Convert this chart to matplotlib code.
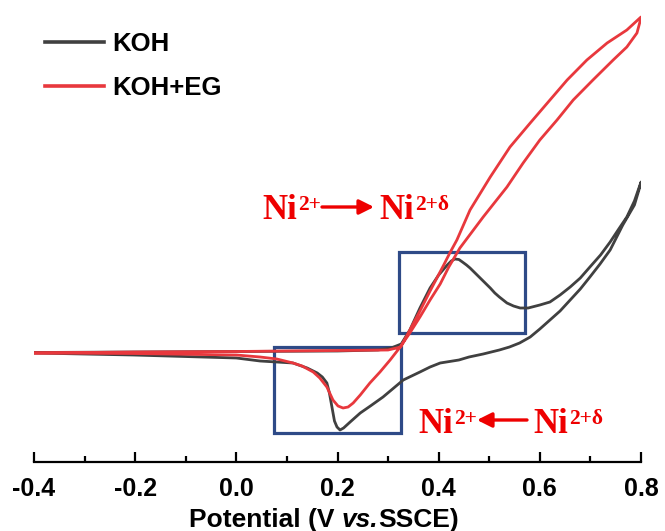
import matplotlib
matplotlib.use("Agg")
import matplotlib.pyplot as plt
from matplotlib.patches import Rectangle

# potential (V vs. SSCE) and current (arb. units)
koh_fwd_v = [-0.40, -0.20, 0.00, 0.20, 0.28, 0.306, 0.326, 0.343, 0.363, 0.383, 0.400,
             0.417, 0.425, 0.432, 0.440, 0.447, 0.455, 0.462, 0.472, 0.482, 0.492, 0.502,
             0.511, 0.520, 0.535, 0.548, 0.561, 0.577,
             0.600, 0.620, 0.640, 0.660, 0.680, 0.699, 0.720, 0.739, 0.756, 0.772, 0.787, 0.800]
koh_fwd_i = [0.05, 0.10, 0.15, 0.20, 0.30, 0.50, 0.90, 2.3, 4.5, 6.5, 7.8,
             8.8, 9.2, 9.4, 9.35, 9.1, 8.8, 8.5, 8.0, 7.5, 7.0, 6.5,
             6.0, 5.6, 5.0, 4.7, 4.5, 4.5,
             4.8, 5.1, 5.8, 6.6, 7.5, 8.6, 9.8, 11.1, 12.4, 13.6, 15.2, 17.1]

koh_rev_v = [0.800, 0.787, 0.764, 0.739, 0.719, 0.699, 0.680, 0.660, 0.640, 0.620, 0.600,
             0.581, 0.560, 0.540, 0.520, 0.488, 0.460, 0.440, 0.403, 0.383, 0.363, 0.330,
             0.290, 0.265, 0.245, 0.225, 0.212, 0.205, 0.199, 0.194, 0.189, 0.184, 0.179,
             0.170, 0.160, 0.140, 0.112, 0.047, 0.000, -0.204, -0.400]
koh_rev_i = [17.0, 14.8, 12.8, 10.3, 8.9, 7.6, 6.4, 5.3, 4.2, 3.3, 2.4,
             1.6, 1.0, 0.6, 0.3, -0.1, -0.4, -0.7, -1.0, -1.4, -1.9, -2.7,
             -4.4, -5.3, -6.0, -6.9, -7.5, -7.7, -7.4, -6.8, -5.4, -4.0, -3.0,
             -2.4, -2.0, -1.5, -1.0, -0.8, -0.5, -0.2, 0.0]

eg_fwd_v = [-0.40, -0.20, 0.00, 0.10, 0.20, 0.30, 0.325, 0.343, 0.363, 0.383, 0.410,
            0.422, 0.436, 0.462, 0.502, 0.541, 0.581, 0.620, 0.654, 0.693, 0.733, 0.772, 0.800]
eg_fwd_i = [0.0, 0.10, 0.15, 0.20, 0.25, 0.30, 0.60, 2.3, 4.2, 6.2, 8.8,
            10.0, 11.3, 14.3, 17.6, 20.6, 23.0, 25.3, 27.3, 29.3, 31.0, 32.3, 33.6]

eg_rev_v = [0.800, 0.792, 0.772, 0.745, 0.705, 0.666, 0.634, 0.600, 0.567, 0.535, 0.488,
            0.442, 0.420, 0.403, 0.383, 0.363, 0.343, 0.324, 0.304, 0.284, 0.264, 0.245,
            0.231, 0.221, 0.211, 0.201, 0.191, 0.179, 0.165, 0.152, 0.130, 0.112, 0.080,
            0.047, 0.000, -0.204, -0.400]
eg_rev_i = [33.5, 32.0, 30.6, 29.3, 27.3, 25.3, 23.3, 21.3, 19.0, 16.6, 13.6,
            10.5, 8.6, 6.9, 5.3, 3.6, 2.0, 0.6, -0.7, -1.9, -3.0, -4.2,
            -5.0, -5.4, -5.5, -5.3, -4.7, -3.4, -2.5, -1.9, -1.3, -1.0, -0.6,
            -0.4, -0.2, -0.05, 0.0]

# highlighted regions: (v_min, v_max, i_min, i_max)
box_red = [0.075, 0.325, -8.0, 0.6]
box_ox = [0.321, 0.570, 2.0, 10.1]

W, H = 665, 531
fig = plt.figure(figsize=(W / 100, H / 100), dpi=100)
ax = fig.add_axes([34 / W, (H - 462) / H, 607 / W, (462 - 5) / H])


def fpix(px, py):
    # pixel position (from top left) -> figure fraction
    return px / W, 1 - py / H


black = "#404040"
red = "#E8383D"
navy = "#2E4A87"
txt_red = "#EE0000"

for b in [box_red, box_ox]:
    ax.add_patch(Rectangle((b[0], b[2]), b[1] - b[0], b[3] - b[2], fill=False,
                           edgecolor=navy, lw=2.3, zorder=1))

l1, = ax.plot(koh_fwd_v + koh_rev_v, koh_fwd_i + koh_rev_i, color=black, lw=2.0, zorder=2,
              label="KOH", solid_joinstyle="round")
l2, = ax.plot(eg_fwd_v + eg_rev_v, eg_fwd_i + eg_rev_i, color=red, lw=2.0, zorder=3,
              label="KOH+EG", solid_joinstyle="round")

ax.set_xlim(-0.4, 0.8)
ax.set_ylim(-10.9, 34.8)
for s in ["top", "right", "left"]:
    ax.spines[s].set_visible(False)
ax.spines["bottom"].set_linewidth(1.6)
ax.set_yticks([])
ax.set_xticks([-0.4, -0.2, 0.0, 0.2, 0.4, 0.6, 0.8])
ax.set_xticks([-0.3, -0.1, 0.1, 0.3, 0.5, 0.7], minor=True)
ax.tick_params(axis="x", which="major", direction="in", length=7, width=1.6, pad=11)
ax.tick_params(axis="x", which="minor", direction="in", length=4, width=1.6)
ax.set_xticklabels(["-0.4", "-0.2", "0.0", "0.2", "0.4", "0.6", "0.8"],
                   fontsize=18, fontweight="bold", family="Liberation Sans")

# x label made of pieces so "vs." can be italic
lab = {"family": "Liberation Sans", "weight": "bold", "fontsize": 19, "va": "baseline"}
renderer = fig.canvas.get_renderer()


def chain(px, py, parts):
    # draw text pieces one after another from pixel position (px, py)
    x = px
    for s, kw in parts:
        t = fig.text(*fpix(x, py), s, ha="left", **kw)
        x = x + t.get_window_extent(renderer).width
    return x


chain(189, 527, [("Potential (V ", lab), ("vs.", dict(lab, style="italic")), ("SSCE)", lab)])

leg = ax.legend(handles=[l1, l2], loc="upper left", bbox_to_anchor=fpix(45, 32),
                bbox_transform=fig.transFigure, frameon=False, borderpad=0,
                borderaxespad=0, handlelength=2.3, handletextpad=0.3, labelspacing=0.78,
                prop={"family": "Liberation Sans", "weight": "bold", "size": 18.5})
for h in leg.legend_handles:
    h.set_linewidth(2.6)

serif = {"family": "Liberation Serif", "weight": "bold", "color": txt_red, "va": "baseline"}


def ni_label(px, py, sup):
    x = chain(px, py, [("Ni", dict(serif, fontsize=25))])
    fig.text(*fpix(x + 1, py - 9), sup, fontsize=15.5, ha="left", **serif)


def arrow(x0, x1, py):
    ax.annotate("", xy=fpix(x1, py), xytext=fpix(x0, py), xycoords="figure fraction",
                textcoords="figure fraction",
                arrowprops=dict(arrowstyle="-|>", color=txt_red, lw=2.4, mutation_scale=22,
                                shrinkA=0, shrinkB=0))


ni_label(262, 219, "2+")
arrow(322, 374, 207)
ni_label(379, 219, "2+\u03b4")

ni_label(418, 433, "2+")
arrow(527, 477, 420)
ni_label(533, 433, "2+\u03b4")

fig.savefig("out.png", dpi=100)
